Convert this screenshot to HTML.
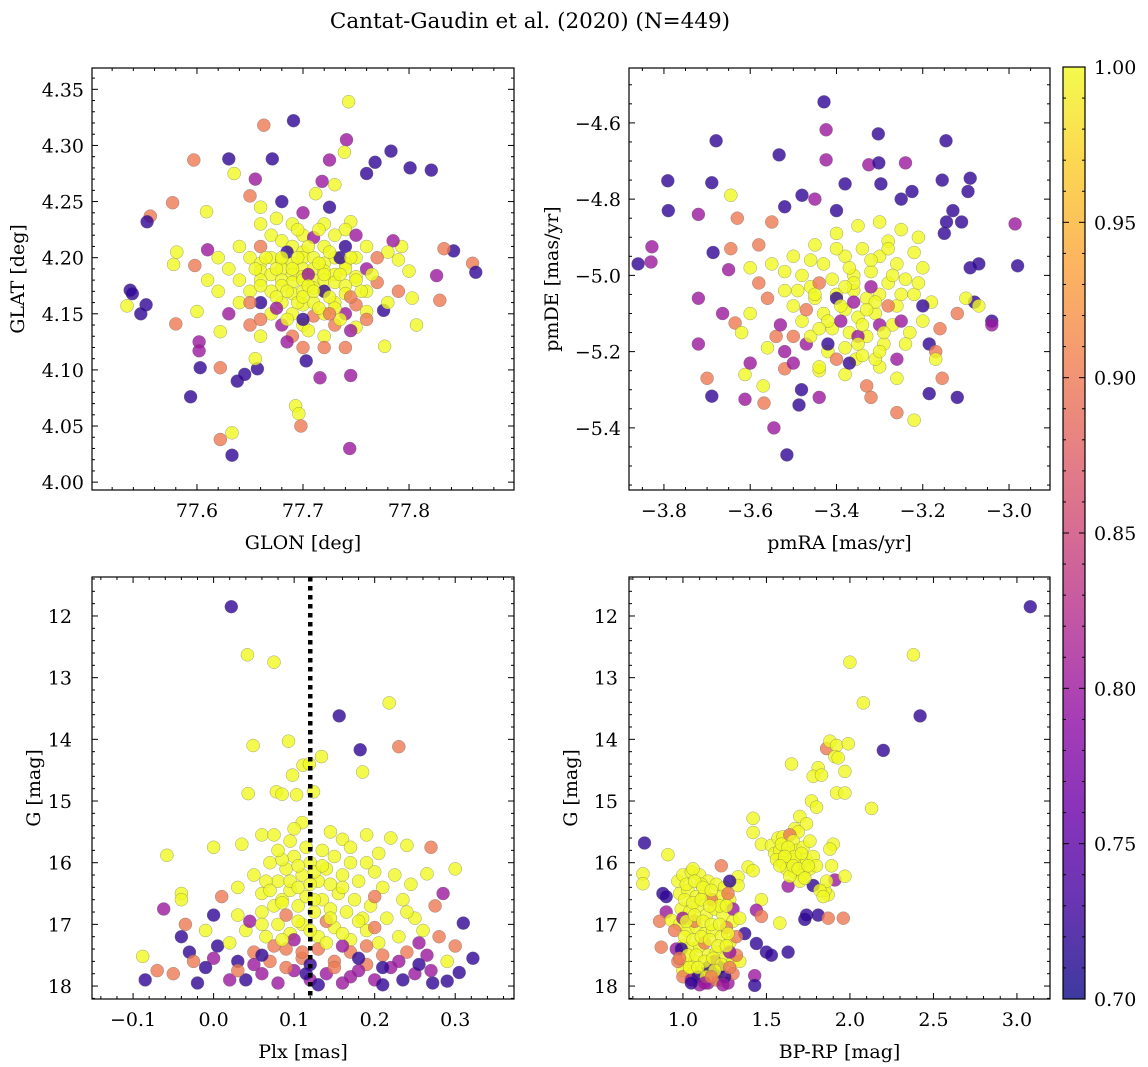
<!DOCTYPE html>
<html><head><meta charset="utf-8">
<style>
html,body{margin:0;padding:0;background:#fff;}
svg{display:block;font-family:"DejaVu Serif","Liberation Serif",serif;}
</style></head>
<body>
<svg id="fig" width="1148" height="1067" viewBox="0 0 1148 1067" xmlns="http://www.w3.org/2000/svg">
<text x="530" y="28" font-size="21.5" text-anchor="middle">Cantat-Gaudin et al. (2020) (N=449)</text>
<defs>
<linearGradient id="plasma" x1="0" y1="1" x2="0" y2="0">
<stop offset="0" stop-color="#0d0887"/><stop offset="0.1" stop-color="#41049d"/><stop offset="0.2" stop-color="#6a00a8"/><stop offset="0.3" stop-color="#8f0da4"/><stop offset="0.4" stop-color="#b12a90"/><stop offset="0.5" stop-color="#cc4778"/><stop offset="0.6" stop-color="#e16462"/><stop offset="0.7" stop-color="#f2844b"/><stop offset="0.8" stop-color="#fca636"/><stop offset="0.9" stop-color="#fcce25"/><stop offset="1" stop-color="#f0f921"/>
</linearGradient>
</defs>
</svg>
<script>
// ---- data (x, y, membership probability) ----
const posData=[
77.743,4.339,1, 77.691,4.322,.72, 77.663,4.318,.9, 77.741,4.305,.8, 77.783,4.295,.72, 77.739,4.294,1,
77.630,4.288,.72, 77.597,4.287,.9, 77.671,4.288,.72, 77.725,4.287,.8, 77.768,4.285,.72, 77.821,4.278,.72,
77.801,4.280,.72, 77.635,4.275,1, 77.655,4.270,.8, 77.760,4.275,.72, 77.718,4.268,.8, 77.730,4.265,1,
77.609,4.241,1, 77.577,4.249,.9, 77.556,4.237,.9, 77.553,4.232,.72, 77.537,4.171,.72, 77.539,4.168,.72,
77.534,4.157,1, 77.552,4.158,.72, 77.547,4.150,.72, 77.578,4.194,1, 77.581,4.205,1, 77.598,4.193,.9,
77.610,4.207,.8, 77.600,4.152,1, 77.580,4.141,.9, 77.622,4.134,1, 77.602,4.125,.8, 77.602,4.117,.8,
77.622,4.102,.9, 77.603,4.102,.72, 77.594,4.076,.72, 77.638,4.090,.72, 77.645,4.096,.72, 77.657,4.101,.72,
77.622,4.038,.9, 77.633,4.044,1, 77.633,4.024,.72, 77.693,4.068,1, 77.696,4.061,1, 77.698,4.050,.9,
77.744,4.030,.8, 77.703,4.108,.72, 77.716,4.093,.8, 77.745,4.095,.8, 77.777,4.121,1, 77.807,4.140,1,
77.803,4.164,1, 77.829,4.162,.9, 77.842,4.206,.72, 77.860,4.195,.9, 77.863,4.187,.72, 77.833,4.208,.9,
77.826,4.184,.8, 77.776,4.153,.72, 77.793,4.210,1, 77.785,4.215,.8, 77.650,4.255,.9, 77.680,4.250,.72,
77.675,4.235,1, 77.700,4.240,.8, 77.725,4.245,.72, 77.745,4.232,1, 77.712,4.257,1, 77.660,4.245,1,
77.69,4.23,1, 77.72,4.23,1, 77.74,4.225,1, 77.66,4.23,1, 77.67,4.22,1, 77.70,4.22,1, 77.71,4.218,.8,
77.73,4.22,1, 77.75,4.22,.8, 77.68,4.215,1, 77.64,4.21,1, 77.66,4.21,.9, 77.69,4.21,1, 77.70,4.205,1,
77.72,4.21,1, 77.74,4.21,.72, 77.76,4.21,1, 77.78,4.205,1, 77.62,4.20,1, 77.65,4.20,1, 77.67,4.20,1,
77.68,4.198,1, 77.70,4.20,1, 77.71,4.20,1, 77.73,4.20,1, 77.75,4.20,1, 77.77,4.20,.9, 77.79,4.198,1,
77.66,4.195,1, 77.69,4.195,1, 77.72,4.195,1, 77.74,4.195,1, 77.63,4.19,1, 77.66,4.188,1, 77.68,4.19,1,
77.69,4.185,1, 77.70,4.19,1, 77.71,4.19,1, 77.72,4.188,1, 77.74,4.19,1, 77.76,4.19,.8, 77.80,4.188,1,
77.67,4.185,1, 77.70,4.183,1, 77.73,4.185,1, 77.75,4.183,1, 77.61,4.18,1, 77.64,4.18,1, 77.66,4.18,1,
77.68,4.18,1, 77.69,4.178,1, 77.70,4.18,1, 77.71,4.18,1, 77.72,4.18,1, 77.73,4.178,1, 77.75,4.18,1,
77.77,4.178,.9, 77.68,4.175,1, 77.71,4.173,1, 77.74,4.175,1, 77.62,4.17,1, 77.65,4.17,1, 77.67,4.17,1,
77.69,4.168,1, 77.70,4.17,1, 77.72,4.17,1, 77.74,4.168,1, 77.76,4.17,1, 77.79,4.17,.9, 77.64,4.16,1,
77.66,4.16,.72, 77.68,4.16,1, 77.70,4.158,1, 77.71,4.16,1, 77.73,4.16,1, 77.75,4.158,.9, 77.78,4.16,1,
77.63,4.15,.8, 77.67,4.15,1, 77.69,4.15,1, 77.71,4.148,.9, 77.72,4.15,1, 77.74,4.15,.8, 77.76,4.152,1,
77.65,4.14,.9, 77.68,4.14,.8, 77.70,4.14,1, 77.73,4.14,.9, 77.75,4.138,1, 77.66,4.13,1, 77.69,4.13,.9,
77.72,4.13,1, 77.70,4.12,.9, 77.72,4.12,.9, 77.66,4.145,.9, 77.685,4.125,.8, 77.74,4.12,.9, 77.655,4.11,1,
77.72,4.17,.72, 77.705,4.185,.8, 77.735,4.2,.72, 77.685,4.205,.72, 77.745,4.165,.9,
77.675,4.19,1, 77.685,4.17,1, 77.695,4.2,1, 77.705,4.175,1, 77.715,4.195,1, 77.725,4.165,1, 77.695,4.16,1,
77.715,4.155,1, 77.705,4.21,1, 77.725,4.205,1, 77.735,4.185,1, 77.675,4.165,1, 77.665,4.2,1, 77.685,4.145,1,
77.745,4.2,1, 77.755,4.17,1, 77.69,4.19,1, 77.70,4.165,1, 77.71,4.17,1, 77.72,4.185,1, 77.68,4.2,1,
77.73,4.155,1, 77.66,4.175,1, 77.765,4.185,1, 77.655,4.19,1, 77.715,4.225,1, 77.695,4.225,1, 77.735,4.145,1,
77.705,4.135,1, 77.675,4.155,.8, 77.725,4.15,.9, 77.745,4.135,.8, 77.65,4.16,.9, 77.76,4.145,.9, 77.70,4.145,.72
];
const pmData=[
-3.429,-4.545,.72, -3.424,-4.618,.8, -3.679,-4.647,.72, -3.146,-4.647,.72, -3.303,-4.629,.72, -3.533,-4.684,.72,
-3.424,-4.697,.8, -3.325,-4.71,.8, -3.302,-4.705,.72, -3.689,-4.757,.72, -3.791,-4.752,.72, -3.72,-4.84,.8,
-3.645,-4.79,1, -2.986,-4.865,.8, -3.86,-4.97,.72, -3.83,-4.965,.8, -3.828,-4.925,.8, -3.79,-4.83,.72,
-3.686,-4.94,.72, -3.65,-4.985,.8, -3.63,-4.85,.9, -3.645,-4.93,.9, -3.664,-5.10,.8, -3.635,-5.125,.9,
-3.72,-5.06,.8, -3.72,-5.18,.8, -3.689,-5.317,.72, -3.70,-5.27,.9, -3.612,-5.26,1, -3.60,-5.23,.8,
-3.52,-5.245,.9, -3.612,-5.325,.8, -3.568,-5.335,.9, -3.545,-5.40,.8, -3.515,-5.471,.72, -3.487,-5.34,.72,
-3.481,-5.30,.72, -3.44,-5.32,.8, -3.44,-5.25,1, -3.355,-5.22,1, -3.33,-5.29,.9, -3.32,-5.32,.9,
-3.26,-5.36,.9, -3.22,-5.38,1, -3.185,-5.18,.72, -3.185,-5.31,.72, -3.12,-5.32,.72, -3.155,-5.27,.9,
-3.08,-5.07,.72, -3.04,-5.12,.72, -2.98,-4.975,.72, -3.09,-4.98,.72, -3.07,-4.97,.72, -3.15,-4.89,.72,
-3.11,-4.86,.72, -3.145,-4.86,.72, -3.13,-4.83,.72, -3.095,-4.78,.72, -3.155,-4.75,.72, -3.225,-4.78,.72,
-3.25,-4.80,.72, -3.297,-4.76,.72, -3.09,-4.745,.72, -3.24,-4.705,.8, -3.52,-4.82,.72, -3.48,-4.79,.72,
-3.45,-4.80,.8, -3.38,-4.76,.72, -3.40,-4.83,.72, -3.55,-4.86,.9, -3.58,-4.92,.9, -3.04,-5.13,.8,
-3.07,-5.08,1, -3.10,-5.06,1, -3.12,-5.10,.9, -3.56,-5.06,.9, -3.58,-5.02,.9, -3.60,-5.10,1,
-3.62,-5.15,1, -3.54,-5.16,.9, -3.52,-5.20,.8, -3.50,-5.23,.8, -3.47,-5.18,.8, -3.57,-5.29,1,
-3.38,-5.26,1, -3.30,-5.24,1, -3.26,-5.27,1, -3.17,-5.20,.9, -3.17,-5.22,1, -3.20,-5.12,1,
-3.35,-4.87,1, -3.30,-4.86,1, -3.25,-4.88,1, -3.40,-4.89,1, -3.45,-4.92,1, -3.28,-4.91,1,
-3.22,-4.94,1, -3.20,-4.98,1, -3.50,-4.95,1, -3.55,-4.97,1, -3.48,-5.00,1, -3.43,-4.97,1,
-3.38,-4.95,1, -3.34,-4.93,1, -3.30,-4.95,1, -3.26,-4.97,1, -3.24,-5.01,1, -3.52,-5.04,1,
-3.46,-5.03,1, -3.41,-5.01,1, -3.36,-5.00,1, -3.32,-4.99,1, -3.28,-5.02,1, -3.22,-5.05,1,
-3.18,-5.07,1, -3.50,-5.08,1, -3.45,-5.06,1, -3.40,-5.05,1, -3.36,-5.04,1, -3.33,-5.06,1,
-3.30,-5.05,1, -3.26,-5.08,1, -3.48,-5.12,1, -3.43,-5.10,1, -3.38,-5.09,1, -3.35,-5.11,1,
-3.31,-5.10,1, -3.27,-5.13,1, -3.23,-5.15,1, -3.46,-5.16,1, -3.41,-5.14,1, -3.37,-5.15,1,
-3.33,-5.16,1, -3.29,-5.18,1, -3.42,-5.20,1, -3.38,-5.19,1, -3.34,-5.21,1, -3.31,-5.22,1,
-3.44,-5.24,1, -3.39,-5.12,.8, -3.42,-5.18,.72, -3.35,-5.16,.8, -3.30,-5.13,.8, -3.47,-5.09,.9,
-3.32,-5.03,.8, -3.28,-5.08,.9, -3.25,-5.12,.8, -3.37,-5.23,.72, -3.40,-5.06,.72, -3.44,-5.02,.9,
-3.53,-5.13,.8, -3.20,-5.08,.72, -3.16,-5.14,.9, -3.56,-5.19,1, -3.21,-4.90,1, -3.60,-4.98,1,
-3.36,-5.02,1, -3.31,-5.07,1, -3.39,-5.08,1, -3.34,-5.13,1, -3.29,-5.15,1, -3.42,-5.12,1, -3.37,-4.98,1,
-3.27,-5.00,1, -3.45,-5.05,1, -3.32,-4.96,1, -3.40,-4.93,1, -3.25,-5.05,1, -3.35,-5.18,1, -3.30,-5.20,1,
-3.44,-5.14,1, -3.49,-5.04,1, -3.21,-5.02,1, -3.38,-5.03,1, -3.33,-5.09,1, -3.28,-4.93,1, -3.46,-4.96,1,
-3.52,-4.99,1, -3.24,-5.18,1, -3.40,-5.22,.9, -3.36,-5.07,.8, -3.50,-5.16,.9, -3.26,-5.22,.8
];
const plxData=[
0.022,11.85,.72, 0.042,12.63,1, 0.075,12.75,1, 0.218,13.41,1, 0.156,13.62,.72, 0.230,14.12,.9,
0.182,14.17,.72, 0.093,14.03,1, 0.049,14.10,1, 0.111,14.42,1, 0.134,14.28,1, 0.185,14.53,1,
0.098,14.58,1, 0.043,14.88,1, 0.078,14.85,1, 0.085,14.89,1, 0.103,14.9,1, 0.119,14.4,1,
0.124,14.85,1, 0.060,15.55,1, 0.075,15.55,1, 0.035,15.7,1, 0.000,15.75,1, 0.110,15.35,1,
0.100,15.45,1, 0.145,15.5,1, 0.160,15.62,1, 0.190,15.55,1, 0.220,15.6,1, 0.270,15.75,.9,
0.240,15.72,1, -0.058,15.88,1, 0.300,16.1,1, 0.265,16.18,1, 0.285,16.5,.8, 0.310,16.98,.72,
0.322,17.55,.72, 0.305,17.78,.72, 0.290,17.92,.72, 0.272,17.95,.72, 0.250,17.8,.8, 0.280,17.2,.9,
0.265,17.5,.8, -0.088,17.52,1, -0.085,17.9,.72, -0.070,17.75,.9, -0.062,16.75,.8, -0.040,16.5,1,
-0.040,16.6,1, -0.035,17.0,.9, -0.040,17.2,.72, -0.030,17.45,.72, -0.020,17.95,.72, -0.025,17.6,.9,
0.000,17.55,.8, 0.005,17.35,.72, 0.000,16.85,.72, 0.010,16.55,.9, 0.020,17.9,.8, 0.040,17.9,.72,
0.030,16.85,1, 0.050,16.2,1, 0.060,16.5,1, 0.070,16.0,1, 0.080,16.3,1, 0.090,16.1,1,
0.100,15.9,1, 0.110,16.2,1, 0.120,16.0,1, 0.130,16.3,1, 0.140,16.1,1, 0.150,15.9,1,
0.160,16.2,1, 0.170,16.0,1, 0.180,16.3,1, 0.200,16.15,1, 0.210,16.4,1, 0.225,16.2,1,
0.060,16.8,1, 0.075,16.7,1, 0.085,16.6,1, 0.095,16.45,1, 0.105,16.7,1, 0.115,16.55,1,
0.125,16.8,1, 0.135,16.6,1, 0.145,16.75,1, 0.155,16.5,1, 0.165,16.8,1, 0.175,16.6,1,
0.185,16.9,1, 0.195,16.7,1, 0.215,16.9,1, 0.235,16.6,1, 0.250,16.9,1, 0.040,17.1,1,
0.065,17.2,1, 0.080,17.0,1, 0.095,17.15,1, 0.110,17.0,1, 0.130,17.2,1, 0.150,17.05,1,
0.170,17.25,1, 0.190,17.1,1, 0.205,17.3,1, 0.230,17.2,1, 0.260,17.1,1, 0.020,17.3,1,
0.050,17.45,.9, 0.070,17.6,.9, 0.090,17.4,.9, 0.110,17.55,.9, 0.130,17.4,.9, 0.150,17.6,.9,
0.170,17.45,.9, 0.190,17.65,.9, 0.210,17.5,.9, 0.240,17.45,.9, 0.060,17.8,.8, 0.080,17.95,.8,
0.100,17.75,.8, 0.120,17.9,.8, 0.140,17.8,.8, 0.160,17.95,.8, 0.180,17.75,.8, 0.200,17.9,.8,
0.220,17.7,.8, 0.235,17.9,.72, 0.210,17.98,.72, 0.130,17.98,.72, 0.030,17.6,.72, 0.255,17.3,.8,
0.100,17.25,.8, 0.160,17.35,.8, 0.075,17.35,.9, 0.140,16.95,.9, 0.200,16.55,.9, 0.090,16.85,.9,
0.045,16.95,.8, 0.180,17.55,.72, 0.120,17.65,.72, 0.065,16.3,1, 0.115,15.75,1, 0.095,15.65,1,
0.135,15.8,1, 0.170,15.75,1, 0.205,15.85,1, 0.030,16.4,1, 0.245,16.35,1, 0.275,16.7,.9,
-0.010,17.1,1, -0.050,17.8,.9, 0.290,17.6,1, 0.300,17.35,.9, 0.160,16.4,1, 0.105,16.05,1,
0.085,15.95,1, 0.125,16.15,1, 0.095,16.3,1, 0.145,16.35,1, 0.105,16.4,1, 0.125,16.6,1, 0.085,16.65,1,
0.145,16.9,1, 0.105,16.95,1, 0.12,17.1,1, 0.085,17.25,1, 0.14,17.3,1, 0.06,17.0,1, 0.18,16.95,1,
0.16,17.15,1, 0.2,17.05,.9, 0.11,17.45,.9, 0.09,17.7,.9, 0.15,17.7,.9, 0.17,17.85,.8, 0.05,17.65,.8,
0.23,17.6,.8, 0.27,17.75,.8, 0.03,17.75,.9, 0.19,17.35,.9, 0.07,16.45,1, 0.12,16.35,1, 0.135,16.05,1,
0.08,15.8,1, 0.19,16.0,1, 0.24,16.8,1, 0.06,17.5,.72, 0.115,17.8,.72, 0.255,17.65,.72, -0.01,17.7,.72, 0.21,17.7,.72
];
const cmdData=[
3.08,11.85,.72, 2.38,12.63,1, 2.0,12.75,1, 2.08,13.41,1, 2.42,13.62,.72, 2.2,14.18,.72,
1.86,14.15,.9, 1.88,14.03,1, 1.92,14.1,1, 1.99,14.07,1, 1.91,14.28,1, 1.93,14.3,1,
1.65,14.4,1, 1.81,14.46,1, 1.78,14.6,1, 1.83,14.58,1, 1.97,14.52,1, 1.92,14.87,1,
1.97,14.87,1, 1.77,15.0,1, 1.8,15.1,1, 2.13,15.12,1, 1.42,15.28,1, 1.42,15.51,1,
1.47,15.7,1, 1.7,15.25,1, 1.74,15.37,1, 1.67,15.45,1, 1.69,15.5,1, 0.77,15.68,.72,
0.76,16.18,1, 0.76,16.34,1, 0.91,15.87,1, 0.88,16.5,.72, 0.9,16.55,.72, 0.9,16.8,.8,
0.86,16.95,.9, 0.93,16.93,1, 0.87,17.37,.9, 1.23,16.05,.9, 1.33,16.23,1, 1.33,16.37,1,
1.39,16.07,1, 1.42,16.13,1, 1.47,16.6,1, 1.44,16.77,.8, 1.47,16.87,.9, 1.58,16.98,1,
1.37,17.15,.72, 1.44,17.31,.72, 1.5,17.45,.72, 1.53,17.5,.72, 1.63,17.45,.72, 1.43,17.83,.8,
1.43,17.99,.72, 1.63,16.38,.8, 1.73,16.92,.72, 1.74,16.85,.72, 1.81,16.85,.72, 1.87,16.9,.9,
1.96,16.9,.9, 1.91,16.28,.8, 1.97,16.22,1, 1.87,16.52,1, 1.85,16.45,1, 1.86,16.3,1,
1.78,16.37,.72, 1.89,16.05,1, 1.9,15.7,1, 1.88,15.78,1, 1.53,15.72,1, 1.57,15.6,1,
1.60,15.58,1, 1.64,15.55,.9, 1.66,15.65,1, 1.55,15.85,1, 1.58,15.8,1, 1.62,15.85,1,
1.68,15.8,1, 1.72,15.75,1, 1.76,15.65,1, 1.56,15.95,1, 1.60,16.0,1, 1.65,15.95,1,
1.70,16.0,1, 1.74,15.95,1, 1.78,15.9,1, 1.62,16.1,1, 1.67,16.15,1, 1.72,16.2,1,
1.76,16.1,1, 1.80,16.05,1, 1.70,16.3,1, 1.82,16.45,1, 1.84,16.55,1, 1.64,16.22,1,
0.97,16.3,1, 1.00,16.2,1, 1.05,16.15,1, 1.10,16.2,1, 1.15,16.3,1, 1.20,16.35,1,
1.25,16.4,1, 0.98,16.5,1, 1.03,16.45,1, 1.08,16.55,1, 1.13,16.5,1, 1.18,16.6,1,
1.23,16.55,1, 1.28,16.6,1, 0.99,16.75,1, 1.04,16.8,1, 1.09,16.7,1, 1.14,16.85,1,
1.19,16.75,1, 1.24,16.85,1, 1.30,16.95,1, 0.98,17.0,1, 1.03,17.1,1, 1.08,17.05,1,
1.13,17.15,1, 1.18,17.1,1, 1.23,17.2,1, 1.28,17.3,1, 1.00,17.35,1, 1.05,17.4,1,
1.10,17.35,1, 1.15,17.5,1, 1.20,17.45,1, 1.25,17.55,1, 1.30,17.6,1, 1.02,17.65,1,
1.07,17.6,1, 1.12,17.75,1, 1.22,17.9,1, 1.34,17.6,1, 1.00,17.75,1, 1.06,17.8,1,
0.97,17.6,.9, 1.00,17.85,.9, 1.05,17.9,.8, 1.10,17.98,.8, 1.15,17.95,.8, 1.20,17.9,.9,
1.27,17.95,.8, 1.30,17.8,.9, 1.32,17.5,.9, 1.28,17.45,.8, 0.96,17.4,.8, 0.95,17.1,.9,
1.00,16.9,.8, 1.26,17.05,.9, 1.30,16.75,.8, 1.32,17.2,.9, 1.22,17.7,.72, 1.15,17.7,.72,
0.99,17.4,.72, 1.28,16.3,.72, 1.17,16.6,.9, 1.07,16.95,.9, 1.13,17.3,.9, 1.19,17.6,.8,
1.25,17.85,.72, 1.09,17.85,.72, 1.27,16.5,.9, 1.34,16.9,1, 1.11,16.35,1, 1.06,16.1,1,
1.02,16.35,1, 1.07,16.3,1, 1.12,16.4,1, 1.17,16.45,1, 1.22,16.7,1, 1.01,16.6,1, 1.06,16.65,1,
1.11,16.6,1, 1.16,16.7,1, 1.26,16.7,1, 1.02,16.95,1, 1.07,16.85,1, 1.12,16.95,1, 1.17,17.0,1,
1.22,17.0,1, 1.27,17.15,1, 1.01,17.2,1, 1.06,17.25,1, 1.11,17.2,1, 1.16,17.25,1, 1.21,17.35,1,
1.26,17.35,1, 1.03,17.5,1, 1.08,17.5,1, 1.13,17.6,1, 1.18,17.55,1, 1.23,17.65,1, 1.04,17.7,1,
1.09,17.7,1, 1.14,17.85,1, 1.19,17.75,1, 1.28,17.7,.9, 0.98,17.55,.9, 1.05,17.95,.72, 1.13,17.95,.8,
1.24,17.98,.8, 1.17,17.85,.9, 1.59,15.7,1, 1.63,15.75,1, 1.67,15.9,1, 1.61,15.9,1, 1.66,16.05,1,
1.71,15.85,1, 1.58,16.05,1, 1.69,16.1,1, 1.75,16.05,1, 1.73,16.25,1
];
const plxLine=0.12;
const cbTicks=[0.70,0.75,0.80,0.85,0.90,0.95,1.00];

// ---- helpers ----
const NS="http://www.w3.org/2000/svg";
const svg=document.getElementById('fig');
function mk(tag,attrs,parent){const e=document.createElementNS(NS,tag);for(const k in attrs)e.setAttribute(k,attrs[k]);(parent||svg).appendChild(e);return e;}
const stops=[[13,8,135],[65,4,157],[106,0,168],[143,13,164],[177,42,144],[204,71,120],[225,100,98],[242,132,75],[252,166,54],[252,206,37],[240,249,33]];
function plasma(v){let t=(v-0.7)/0.3;t=Math.max(0,Math.min(1,t));const f=t*10,i=Math.min(9,Math.floor(f)),r=f-i;const a=stops[i],b=stops[i+1];return `rgb(${Math.round(a[0]+(b[0]-a[0])*r)},${Math.round(a[1]+(b[1]-a[1])*r)},${Math.round(a[2]+(b[2]-a[2])*r)})`;}
function fmt(v,d){let s=v.toFixed(d);if(s.startsWith('-'))s='\u2212'+s.slice(1);return s;}
const FS=19;

function panel(o){
  const sx=v=>o.x0+(v-o.xmin)/(o.xmax-o.xmin)*(o.x1-o.x0);
  const sy=v=>o.y1-(v-o.ymin)/(o.ymax-o.ymin)*(o.y1-o.y0);
  const g=mk('g',{});
  
  
  const clipId='clip-'+o.name;
  const cp=mk('clipPath',{id:clipId},g);mk('rect',{x:o.x0,y:o.y0,width:o.x1-o.x0,height:o.y1-o.y0},cp);
  const pts=mk('g',{'clip-path':`url(#${clipId})`},g);
  
  
  for(let i=0;i<o.data.length;i+=3){
    const c=mk('circle',{cx:sx(o.data[i]).toFixed(1),cy:sy(o.data[i+1]).toFixed(1),r:6.5,fill:plasma(o.data[i+2]),'fill-opacity':0.8,stroke:'#666','stroke-width':0.5,'stroke-opacity':0.6},pts);
    
    
  }
  if(o.vline!==undefined){
    const l=mk('line',{x1:sx(o.vline),x2:sx(o.vline),y1:o.y0,y2:o.y1,stroke:'#000','stroke-width':4.5,'stroke-dasharray':'4.5,4.5'},g);
    
    
  }
  mk('rect',{x:o.x0,y:o.y0,width:o.x1-o.x0,height:o.y1-o.y0,fill:'none',stroke:'#000','stroke-width':1.2},g);
  const eps=1e-9;
  for(let v=Math.ceil(o.xmin/o.xminor-1e-6)*o.xminor;v<=o.xmax+eps;v+=o.xminor){
    const X=sx(v);const isMaj=Math.abs(v/o.xmajor-Math.round(v/o.xmajor))<1e-6;const L=isMaj?6:3;
    mk('line',{x1:X,x2:X,y1:o.y1,y2:o.y1-L,stroke:'#000','stroke-width':1},g);
    mk('line',{x1:X,x2:X,y1:o.y0,y2:o.y0+L,stroke:'#000','stroke-width':1},g);
    if(isMaj){const t=mk('text',{x:X,y:o.y1+27,'font-size':FS,'text-anchor':'middle'},g);t.textContent=fmt(v,o.xd);
      }
  }
  for(let v=Math.ceil(o.ymin/o.yminor-1e-6)*o.yminor;v<=o.ymax+eps;v+=o.yminor){
    const Y=sy(v);const isMaj=Math.abs(v/o.ymajor-Math.round(v/o.ymajor))<1e-6;const L=isMaj?6:3;
    mk('line',{x1:o.x0,x2:o.x0+L,y1:Y,y2:Y,stroke:'#000','stroke-width':1},g);
    mk('line',{x1:o.x1,x2:o.x1-L,y1:Y,y2:Y,stroke:'#000','stroke-width':1},g);
    if(isMaj){const t=mk('text',{x:o.x0-o.ypad,y:Y+7,'font-size':FS,'text-anchor':'end'},g);t.textContent=fmt(o.yflip?-v:v,o.yd);
      }
  }
  const xl=mk('text',{x:(o.x0+o.x1)/2,y:o.y1+59,'font-size':FS,'text-anchor':'middle'},g);xl.textContent=o.xlabel;
  
  const yl=mk('text',{x:o.ylx,y:(o.y0+o.y1)/2,'font-size':FS,'text-anchor':'middle',transform:`rotate(-90 ${o.ylx} ${(o.y0+o.y1)/2})`},g);yl.textContent=o.ylabel;
  
}
function neg(arr){const r=arr.slice();for(let i=1;i<r.length;i+=3)r[i]=-r[i];return r;}

panel({name:'position-panel',data:posData,x0:92,x1:514,y0:68,y1:490,xmin:77.501,xmax:77.899,ymin:3.993,ymax:4.369,xmajor:0.1,xminor:0.02,ymajor:0.05,yminor:0.01,xd:1,yd:2,xlabel:'GLON [deg]',ylabel:'GLAT [deg]',ylx:24,ypad:8});
panel({name:'proper-motion-panel',data:pmData,x0:629,x1:1050,y0:68,y1:490,xmin:-3.881,xmax:-2.905,ymin:-5.563,ymax:-4.456,xmajor:0.2,xminor:0.05,ymajor:0.2,yminor:0.05,xd:1,yd:1,xlabel:'pmRA [mas/yr]',ylabel:'pmDE [mas/yr]',ylx:558,ypad:8});
panel({name:'parallax-panel',data:neg(plxData),vline:plxLine,x0:92,x1:514,y0:577,y1:999,xmin:-0.151,xmax:0.373,ymin:-18.21,ymax:-11.368,xmajor:0.1,xminor:0.02,ymajor:1,yminor:0.2,xd:1,yd:0,yflip:true,xlabel:'Plx [mas]',ylabel:'G [mag]',ylx:40,ypad:20});
panel({name:'cmd-panel',data:neg(cmdData),x0:629,x1:1050,y0:577,y1:999,xmin:0.677,xmax:3.198,ymin:-18.21,ymax:-11.368,xmajor:0.5,xminor:0.1,ymajor:1,yminor:0.2,xd:1,yd:0,yflip:true,xlabel:'BP-RP [mag]',ylabel:'G [mag]',ylx:577,ypad:11});

(function(){
  const x0=1063,x1=1085,y0=67,y1=999;
  const g=mk('g',{});
  
  
  mk('rect',{x:x0,y:y0,width:x1-x0,height:y1-y0,fill:'url(#plasma)','fill-opacity':0.8},g);
  mk('rect',{x:x0,y:y0,width:x1-x0,height:y1-y0,fill:'none',stroke:'#000','stroke-width':1.2},g);
  const cy=v=>y1-(v-0.7)/0.3*(y1-y0);
  for(let v=0.70;v<=1.0001;v+=0.01){const Y=cy(v);const maj=Math.abs(v*20-Math.round(v*20))<1e-6;
    mk('line',{x1:x1,x2:x1-(maj?6:3),y1:Y,y2:Y,stroke:'#000','stroke-width':1},g);
    mk('line',{x1:x0,x2:x0+(maj?6:3),y1:Y,y2:Y,stroke:'#000','stroke-width':1},g);}
  cbTicks.forEach(v=>{const t=mk('text',{x:x1+9,y:cy(v)+7,'font-size':FS},g);t.textContent=v.toFixed(2);
    });
})();
</script>
</body></html>
